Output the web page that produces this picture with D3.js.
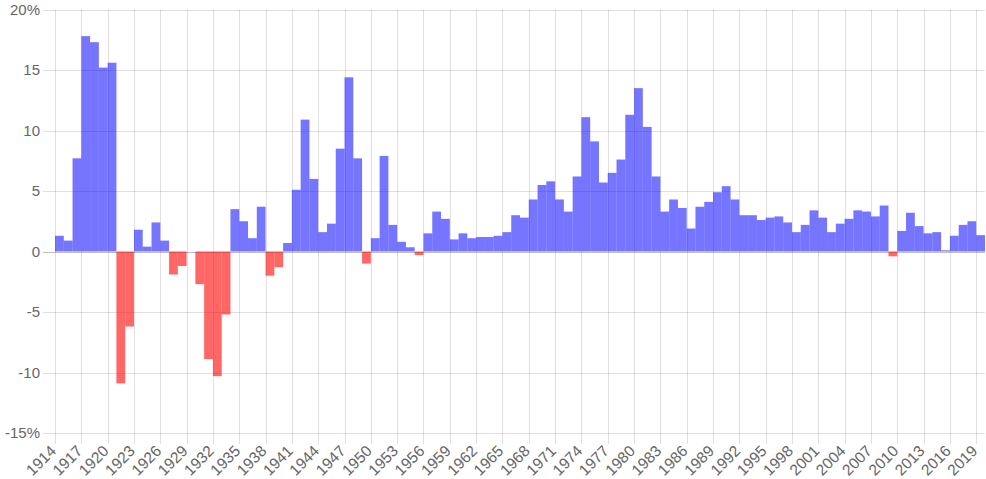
<!DOCTYPE html>
<html>
<head>
<meta charset="utf-8">
<script src="https://cdnjs.cloudflare.com/ajax/libs/d3/7.8.5/d3.min.js"></script>
<style>
  html, body { margin: 0; padding: 0; background: #fff; }
  svg { display: block; }
  text { font-family: "Liberation Sans", Arial, Helvetica, sans-serif; fill: #666; }
</style>
</head>
<body>
<svg id="chart" width="986" height="479"></svg>
<script>
// ---- data ----
const years = d3.range(1914, 2020);
const inflation = [
  1.3, 0.9, 7.7, 17.8, 17.3, 15.2, 15.6, -10.9, -6.2, 1.8,   // 1914-1923
  0.4, 2.4, 0.9, -1.9, -1.2, 0.0, -2.7, -8.9, -10.3, -5.2,   // 1924-1933
  3.5, 2.5, 1.1, 3.7, -2.0, -1.3, 0.7, 5.1, 10.9, 6.0,       // 1934-1943
  1.6, 2.3, 8.5, 14.4, 7.7, -1.0, 1.1, 7.9, 2.2, 0.8,        // 1944-1953
  0.35, -0.3, 1.5, 3.3, 2.7, 1.0, 1.5, 1.1, 1.2, 1.2,        // 1954-1963
  1.3, 1.6, 3.0, 2.8, 4.3, 5.5, 5.8, 4.3, 3.3, 6.2,          // 1964-1973
  11.1, 9.1, 5.7, 6.5, 7.6, 11.3, 13.5, 10.3, 6.2, 3.3,      // 1974-1983
  4.3, 3.6, 1.9, 3.7, 4.1, 4.9, 5.4, 4.3, 3.0, 3.0,          // 1984-1993
  2.6, 2.8, 2.9, 2.4, 1.6, 2.2, 3.4, 2.8, 1.6, 2.3,          // 1994-2003
  2.7, 3.4, 3.3, 2.9, 3.8, -0.4, 1.7, 3.2, 2.1, 1.5,         // 2004-2013
  1.6, 0.1, 1.3, 2.2, 2.5, 1.35                              // 2014-2019
];
const yTickValues = [-15, -10, -5, 0, 5, 10, 15, 20];
const yTickLabels = ["-15%", "-10", "-5", "0", "5", "10", "15", "20%"];
const xTickYears = d3.range(1914, 2020, 3);

// ---- layout ----
const svg = d3.select("#chart");
const plotLeft = 55, plotRight = 985, plotTop = 9.5, plotBottom = 433;
const x = d3.scaleLinear().domain([1914, 2020]).range([plotLeft, plotRight]);
const y = d3.scaleLinear().domain([-15, 20]).range([plotBottom, plotTop]);

const gridColor = "rgba(0,0,0,0.12)";

// horizontal grid lines (with tick marks extending left)
svg.append("g").selectAll("line").data(yTickValues).join("line")
  .attr("x1", plotLeft - 12).attr("x2", plotRight)
  .attr("y1", d => Math.round(y(d)) + 0.5).attr("y2", d => Math.round(y(d)) + 0.5)
  .attr("stroke", d => d === 0 ? "rgba(0,0,0,0.25)" : gridColor)
  .attr("stroke-width", 1);

// vertical grid lines (with tick marks extending below)
svg.append("g").selectAll("line").data(xTickYears).join("line")
  .attr("x1", d => Math.round(x(d)) + 0.5).attr("x2", d => Math.round(x(d)) + 0.5)
  .attr("y1", plotTop).attr("y2", plotBottom + 11)
  .attr("stroke", gridColor).attr("stroke-width", 1);

// bars
const data = years.map((yr, i) => ({ year: yr, value: inflation[i] }));
svg.append("g").selectAll("rect").data(data).join("rect")
  .attr("x", d => x(d.year))
  .attr("width", d => x(d.year + 1) - x(d.year))
  .attr("y", d => y(Math.max(0, d.value)))
  .attr("height", d => Math.abs(y(d.value) - y(0)))
  .attr("fill", d => d.value < 0 ? "rgba(255,0,0,0.6)" : "rgba(0,0,255,0.54)");

// y tick labels
svg.append("g").selectAll("text").data(yTickValues).join("text")
  .attr("x", plotLeft - 15)
  .attr("y", d => y(d))
  .attr("dy", "0.35em")
  .attr("text-anchor", "end")
  .attr("font-size", 15)
  .text((d, i) => yTickLabels[i]);

// x tick labels (rotated)
svg.append("g").selectAll("text").data(xTickYears).join("text")
  .attr("transform", d => `translate(${x(d) + 2},${plotBottom + 19}) rotate(-45)`)
  .attr("text-anchor", "end")
  .attr("font-size", 15.5)
  .text(d => d);
</script>
</body>
</html>
